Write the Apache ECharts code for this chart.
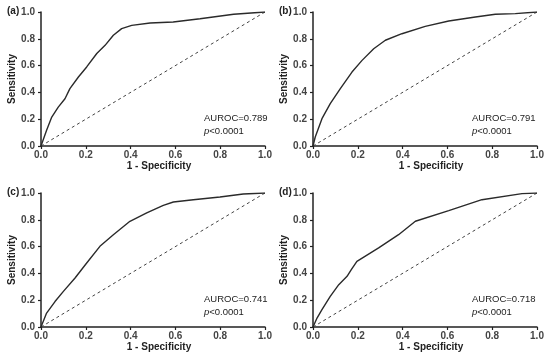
<!DOCTYPE html>
<html>
<head>
<meta charset="utf-8">
<script src="https://cdn.jsdelivr.net/npm/echarts@6/dist/echarts.min.js"></script>
<style>html,body{margin:0;padding:0;background:#fff}#c{width:550px;height:362px}</style>
</head>
<body>
<div id="c"></div>
<script>
// ROC curve data (1 - specificity, sensitivity)
var fprA = [0, 0.025, 0.048, 0.077, 0.107, 0.129, 0.167, 0.204, 0.249, 0.286, 0.323, 0.36, 0.405, 0.487, 0.59, 0.71, 0.86, 1];
var tprA = [0, 0.117, 0.216, 0.29, 0.353, 0.428, 0.515, 0.59, 0.69, 0.751, 0.826, 0.876, 0.9, 0.918, 0.925, 0.95, 0.983, 1];

var fprB = [0, 0.01, 0.04, 0.077, 0.122, 0.174, 0.219, 0.271, 0.323, 0.397, 0.501, 0.606, 0.725, 0.814, 0.903, 1];
var tprB = [0, 0.067, 0.204, 0.316, 0.428, 0.552, 0.639, 0.726, 0.789, 0.838, 0.893, 0.933, 0.963, 0.983, 0.988, 1];

var fprC = [0, 0.025, 0.0625, 0.1, 0.152, 0.204, 0.263, 0.323, 0.397, 0.472, 0.546, 0.591, 0.68, 0.799, 0.903, 1];
var tprC = [0, 0.104, 0.19, 0.266, 0.366, 0.478, 0.602, 0.689, 0.789, 0.851, 0.908, 0.933, 0.95, 0.97, 0.993, 1];

var fprD = [0, 0.018, 0.04, 0.077, 0.115, 0.152, 0.171, 0.196, 0.293, 0.382, 0.457, 0.606, 0.754, 0.933, 1];
var tprD = [0, 0.067, 0.129, 0.229, 0.316, 0.378, 0.428, 0.49, 0.59, 0.689, 0.789, 0.868, 0.95, 0.995, 1];

var refX = [0, 1];
var refY = [0, 1];

var panelLabels = ['(a)', '(b)', '(c)', '(d)'];
var aurocTexts = ['AUROC=0.789', 'AUROC=0.791', 'AUROC=0.741', 'AUROC=0.718'];
var pText = '<0.0001';
var xName = '1 - Specificity';
var yName = 'Sensitivity';

function zip(a, b) { return a.map(function (v, i) { return [v, b[i]]; }); }

var grids = [
  {left: 41, top: 12, width: 224, height: 134},
  {left: 313, top: 12, width: 224, height: 134},
  {left: 41, top: 193, width: 224, height: 134},
  {left: 313, top: 193, width: 224, height: 134}
];
var curves = [zip(fprA, tprA), zip(fprB, tprB), zip(fprC, tprC), zip(fprD, tprD)];
var FONT = 'Liberation Sans, Arial, sans-serif';

var xAxes = [], yAxes = [], series = [], graphics = [];
grids.forEach(function (g, i) {
  var axCommon = {
    gridIndex: i, type: 'value', min: 0, max: 1, interval: 0.2,
    axisLine: {show: true, lineStyle: {color: '#222', width: 1.5}},
    axisTick: {show: true, length: 3, lineStyle: {color: '#222', width: 1.2}},
    splitLine: {show: false},
    axisLabel: {color: '#444', fontSize: 10, fontWeight: 'bold', fontFamily: FONT,
      formatter: function (v) { return v.toFixed(1); }},
    nameLocation: 'middle',
    nameTextStyle: {color: '#222', fontSize: 10, fontWeight: 'bold', fontFamily: FONT}
  };
  xAxes.push(Object.assign({}, axCommon, {
    name: xName, nameGap: 15,
    axisLabel: Object.assign({}, axCommon.axisLabel, {margin: 4}),
    nameTextStyle: Object.assign({}, axCommon.nameTextStyle, {padding: [0, 0, 0, 12]})
  }));
  yAxes.push(Object.assign({}, axCommon, {
    name: yName, nameGap: 23,
    axisLabel: Object.assign({}, axCommon.axisLabel, {margin: 6})
  }));
  series.push({
    type: 'line', xAxisIndex: i, yAxisIndex: i, data: zip(refX, refY),
    showSymbol: false, silent: true,
    lineStyle: {color: '#444', width: 1, type: [3, 3]}
  });
  series.push({
    type: 'line', xAxisIndex: i, yAxisIndex: i, data: curves[i],
    showSymbol: false, smooth: false,
    lineStyle: {color: '#2a2a2a', width: 1.4}
  });
  var lx = (i % 2 === 0) ? 7 : 279;
  var ly = g.top;
  graphics.push({
    type: 'text', left: lx, top: ly - 6,
    style: {text: panelLabels[i], fill: '#222', font: 'bold 10px ' + FONT}
  });
  var tx = (i % 2 === 0) ? 204 : 472;
  graphics.push({
    type: 'text', left: tx, top: g.top + 101,
    style: {text: aurocTexts[i], fill: '#222', font: '9.5px ' + FONT}
  });
  graphics.push({
    type: 'text', left: tx, top: g.top + 114,
    style: {
      text: '{i|p}' + pText,
      rich: {i: {fontStyle: 'italic', fontSize: 9.5, fontFamily: FONT, fill: '#222'}},
      fill: '#222', font: '9.5px ' + FONT
    }
  });
});

var chart = echarts.init(document.getElementById('c'), null, {renderer: 'canvas'});
chart.setOption({
  backgroundColor: '#fff',
  animation: false,
  grid: grids,
  xAxis: xAxes,
  yAxis: yAxes,
  series: series,
  graphic: graphics
});
</script>
</body>
</html>
